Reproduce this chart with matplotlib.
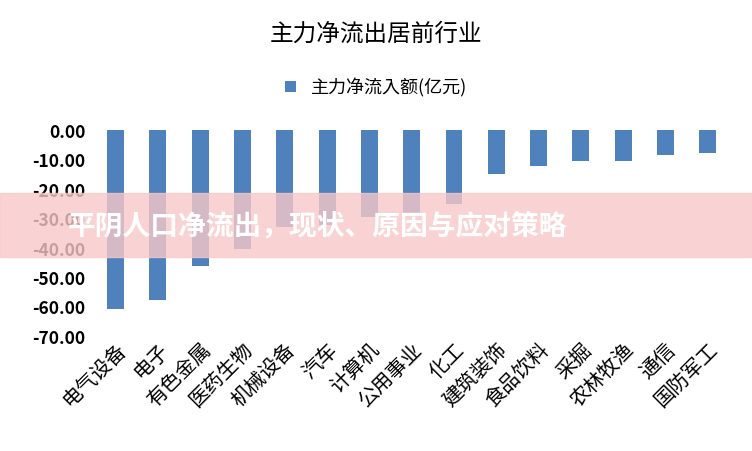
import matplotlib
matplotlib.use("Agg")
import matplotlib.pyplot as plt
from matplotlib import font_manager
from matplotlib.ticker import FuncFormatter

# pick whichever CJK family is actually registered
names = sorted(set(f.name for f in font_manager.fontManager.ttflist))
cjk = [n for n in names if "CJK" in n] or [n for n in names if "Noto" in n]
plt.rcParams["font.family"] = cjk + ["DejaVu Sans"]

industries = ["电气设备", "电子", "有色金属", "医药生物", "机械设备", "汽车", "计算机",
              "公用事业", "化工", "建筑装饰", "食品饮料", "采掘", "农林牧渔", "通信", "国防军工"]
net_flow = [-61.0, -58.0, -46.4, -40.5, -33.0, -32.4, -29.5,
            -28.7, -25.3, -15.0, -12.3, -10.6, -10.6, -8.5, -7.8]

fig = plt.figure(figsize=(7.52, 4.52), dpi=100)
ax = fig.add_axes([0.12, 0.255, 0.855, 0.455])
ax.bar(range(len(industries)), net_flow, width=0.4, color="#4f81bd", label="主力净流入额(亿元)")
ax.set_ylim(-70, 0)
ax.set_xlim(-0.6, len(industries) - 0.4)
ax.set_yticks(range(-70, 1, 10))
ax.yaxis.set_major_formatter(FuncFormatter(lambda v, p: "%.2f" % v))
ax.tick_params(axis="y", labelsize=12.5, length=0)
ax.set_xticks(range(len(industries)))
ax.set_xticklabels(industries, rotation=45, ha="right", rotation_mode="anchor", fontsize=14.5)
ax.tick_params(axis="x", length=0, pad=2)
for t in ax.get_yticklabels():
    t.set_fontweight("bold")
for s in ax.spines.values():
    s.set_visible(False)

fig.text(0.5, 0.925, "主力净流出居前行业", ha="center", va="center", fontsize=17)
fig.legend(loc="center", bbox_to_anchor=(0.5, 0.805), frameon=False, fontsize=13,
           handlelength=0.6, handleheight=0.6)

# overlay banner
fig.patches.append(plt.Rectangle((0, 0.43), 1, 0.14, transform=fig.transFigure,
                                 color="#f8c8c8", alpha=0.8, zorder=5))
fig.text(0.09, 0.5, "平阴人口净流出，现状、原因与应对策略", ha="left", va="center",
         fontsize=20, fontweight="bold", color="white", zorder=6)

fig.savefig("out.png")
